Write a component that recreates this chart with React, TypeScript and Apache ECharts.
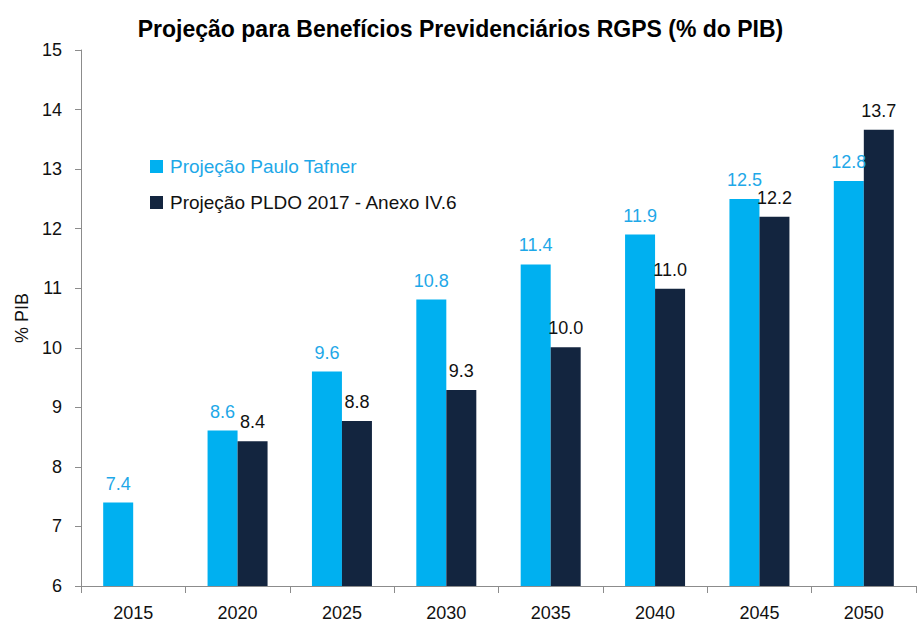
import React, { useEffect, useRef } from "react";
import * as echarts from "echarts";

const categories = ["2015", "2020", "2025", "2030", "2035", "2040", "2045", "2050"];
const tafner = [7.4, 8.61, 9.6, 10.81, 11.4, 11.9, 12.5, 12.8];
const pldo = [null, 8.43, 8.77, 9.29, 10.01, 10.99, 12.2, 13.66];
const yTicks = [6, 7, 8, 9, 10, 11, 12, 13, 14, 15];

const FONT = "'Liberation Sans', Arial, sans-serif";

export default function App() {
  const ref = useRef<HTMLDivElement>(null);
  useEffect(() => {
    document.body.style.margin = "0";
    const chart = echarts.init(ref.current!, null, { renderer: "svg" });
    chart.setOption({
      animation: false,
      backgroundColor: "#ffffff",
      title: {
        text: "Projeção para Benefícios Previdenciários RGPS (% do PIB)",
        left: "center",
        top: 12,
        textStyle: { fontFamily: FONT, fontSize: 23, fontWeight: "bold", color: "#000" },
      },
      legend: {
        orient: "vertical",
        left: 150,
        top: 157,
        padding: 0,
        itemWidth: 13,
        itemHeight: 13,
        itemGap: 17,
        icon: "rect",
        textStyle: { fontFamily: FONT, fontSize: 19, padding: [0, 0, 0, 2] },
        data: [
          { name: "Projeção Paulo Tafner", textStyle: { color: "#1ea8e8" } },
          { name: "Projeção PLDO 2017 - Anexo IV.6", textStyle: { color: "#111" } },
        ],
      },
      grid: { left: 81, right: 5, top: 50, bottom: 49, containLabel: false },
      xAxis: {
        type: "category",
        data: categories,
        axisLine: { lineStyle: { color: "#8c8c8c", width: 1 } },
        axisTick: { show: true, length: 7, lineStyle: { color: "#8c8c8c" } },
        axisLabel: { fontFamily: FONT, fontSize: 18, color: "#111", margin: 18 },
      },
      yAxis: {
        type: "value",
        min: 6,
        max: 15,
        interval: 1,
        name: "% PIB",
        nameLocation: "middle",
        nameGap: 50,
        nameTextStyle: { fontFamily: FONT, fontSize: 18, color: "#111" },
        axisLine: { show: true, lineStyle: { color: "#8c8c8c", width: 1 } },
        axisTick: { show: true, length: 6, lineStyle: { color: "#8c8c8c" } },
        axisLabel: {
          fontFamily: FONT,
          fontSize: 18,
          color: "#111",
          margin: 19,
          formatter: (v: number) => (yTicks.includes(v) ? String(v) : ""),
        },
        splitLine: { show: false },
      },
      series: [
        {
          name: "Projeção Paulo Tafner",
          type: "bar",
          data: tafner,
          barWidth: 30,
          barGap: "0%",
          itemStyle: { color: "#00b0f0" },
          label: {
            show: true,
            position: "top",
            distance: 10,
            fontFamily: FONT,
            fontSize: 18,
            color: "#1ea8e8",
            formatter: (p: any) => Number(p.value).toFixed(1),
          },
        },
        {
          name: "Projeção PLDO 2017 - Anexo IV.6",
          type: "bar",
          data: pldo,
          barWidth: 30,
          barGap: "0%",
          itemStyle: { color: "#13253f" },
          label: {
            show: true,
            position: "top",
            distance: 10,
            fontFamily: FONT,
            fontSize: 18,
            color: "#111",
            formatter: (p: any) => Number(p.value).toFixed(1),
          },
        },
      ],
    });
    return () => chart.dispose();
  }, []);
  return <div ref={ref} style={{ width: 921, height: 635 }} />;
}
